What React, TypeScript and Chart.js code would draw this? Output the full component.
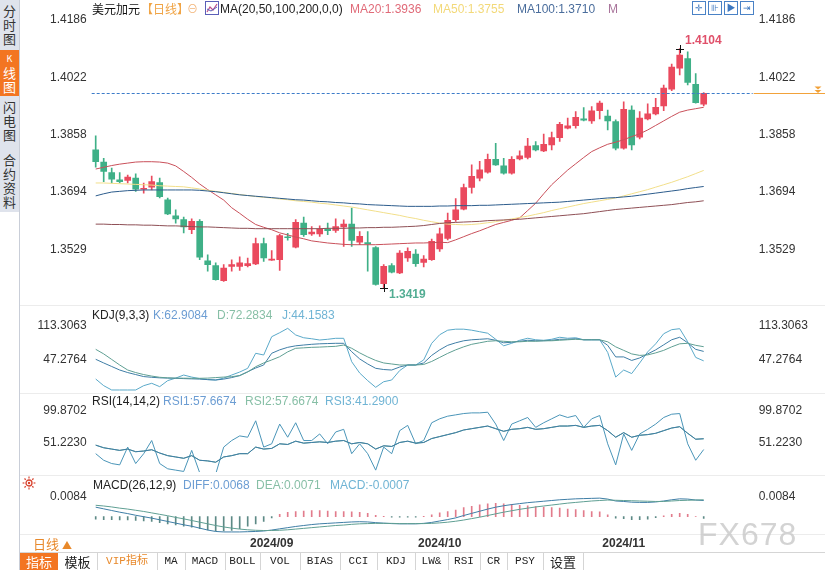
import React, { useEffect, useRef } from "react";
import { Chart, registerables } from "chart.js";
Chart.register(...registerables);

const FONT = "'Liberation Sans', 'Noto Sans CJK SC', sans-serif";
const CJK = "'Noto Sans CJK SC', 'Liberation Sans', sans-serif";
const MONO = "'Liberation Mono', 'Noto Sans CJK SC', monospace";

// ---------- categories ----------
const dates = [
  "2024/08/01","2024/08/02","2024/08/05","2024/08/06","2024/08/07","2024/08/08","2024/08/09",
  "2024/08/12","2024/08/13","2024/08/14","2024/08/15","2024/08/16","2024/08/19","2024/08/20",
  "2024/08/21","2024/08/22","2024/08/23","2024/08/26","2024/08/27","2024/08/28","2024/08/29",
  "2024/08/30","2024/09/02","2024/09/03","2024/09/04","2024/09/05","2024/09/06","2024/09/09",
  "2024/09/10","2024/09/11","2024/09/12","2024/09/13","2024/09/16","2024/09/17","2024/09/18",
  "2024/09/19","2024/09/20","2024/09/23","2024/09/24","2024/09/25","2024/09/26","2024/09/27",
  "2024/09/30","2024/10/01","2024/10/02","2024/10/03","2024/10/04","2024/10/07","2024/10/08",
  "2024/10/09","2024/10/10","2024/10/11","2024/10/14","2024/10/15","2024/10/16","2024/10/17",
  "2024/10/18","2024/10/21","2024/10/22","2024/10/23","2024/10/24","2024/10/25","2024/10/28",
  "2024/10/29","2024/10/30","2024/10/31","2024/11/01","2024/11/04","2024/11/05","2024/11/06",
  "2024/11/07","2024/11/08","2024/11/11","2024/11/12","2024/11/13","2024/11/14","2024/11/15",
];
const emptySlots = ["", "", "", "", "", ""];
const monthTickLabels = ["2024/09", "2024/10", "2024/11"];

// ---------- candles ----------
const opens = [
  1.3814,1.3779,1.3749,1.3728,1.3726,1.3733,1.3701,1.3707,1.3720,1.3671,1.3625,1.3614,1.3585,1.3609,
  1.3496,1.3482,1.3439,1.3480,1.3480,1.3482,1.3487,1.3545,1.3498,1.3499,1.3564,1.3535,1.3604,1.3573,
  1.3573,1.3587,1.3583,1.3593,1.3601,1.3549,1.3548,1.3534,1.3430,1.3482,1.3461,1.3504,1.3515,1.3491,
  1.3499,1.3530,1.3560,1.3614,1.3644,1.3706,1.3733,1.3750,1.3787,1.3768,1.3747,1.3788,1.3792,1.3826,
  1.3811,1.3828,1.3849,1.3876,1.3883,1.3903,1.3897,1.3926,1.3911,1.3895,1.3819,1.3928,1.3850,1.3903,
  1.3917,1.3940,1.3988,1.4048,1.4076,1.4002,1.3945,
];
const highs = [
  1.3854,1.3790,1.3762,1.3749,1.3742,1.3745,1.3719,1.3739,1.3733,1.3676,1.3642,1.3621,1.3616,1.3614,
  1.3513,1.3490,1.3485,1.3499,1.3507,1.3504,1.3561,1.3561,1.3525,1.3572,1.3575,1.3614,1.3621,1.3594,
  1.3596,1.3604,1.3616,1.3613,1.3647,1.3580,1.3580,1.3537,1.3485,1.3488,1.3525,1.3533,1.3528,1.3511,
  1.3558,1.3590,1.3633,1.3674,1.3716,1.3771,1.3781,1.3802,1.3833,1.3790,1.3795,1.3811,1.3847,1.3838,
  1.3859,1.3865,1.3893,1.3905,1.3924,1.3935,1.3938,1.3954,1.3928,1.3900,1.3952,1.3940,1.3924,1.3946,
  1.3962,1.4000,1.4060,1.4104,1.4095,1.4033,1.3978,
];
const lows = [
  1.3764,1.3723,1.3719,1.3719,1.3719,1.3695,1.3690,1.3699,1.3676,1.3628,1.3604,1.3576,1.3574,1.3499,
  1.3466,1.3440,1.3437,1.3466,1.3468,1.3478,1.3485,1.3494,1.3497,1.3468,1.3555,1.3533,1.3566,1.3569,
  1.3566,1.3571,1.3577,1.3537,1.3537,1.3542,1.3466,1.3426,1.3419,1.3461,1.3459,1.3494,1.3480,1.3478,
  1.3497,1.3523,1.3556,1.3609,1.3642,1.3690,1.3725,1.3747,1.3769,1.3744,1.3744,1.3785,1.3788,1.3811,
  1.3809,1.3814,1.3838,1.3874,1.3876,1.3897,1.3890,1.3903,1.3871,1.3814,1.3816,1.3814,1.3845,1.3900,
  1.3914,1.3926,1.3984,1.4029,1.4000,1.3948,1.3940,
];
const closes = [
  1.3780,1.3752,1.3730,1.3723,1.3736,1.3701,1.3704,1.3723,1.3680,1.3630,1.3616,1.3593,1.3609,1.3506,
  1.3485,1.3442,1.3475,1.3485,1.3490,1.3488,1.3545,1.3504,1.3500,1.3568,1.3562,1.3606,1.3571,1.3578,
  1.3587,1.3582,1.3594,1.3601,1.3554,1.3566,1.3544,1.3428,1.3480,1.3463,1.3518,1.3523,1.3488,1.3501,
  1.3552,1.3573,1.3612,1.3642,1.3706,1.3738,1.3757,1.3787,1.3771,1.3747,1.3787,1.3797,1.3825,1.3814,
  1.3830,1.3849,1.3887,1.3883,1.3907,1.3899,1.3926,1.3948,1.3897,1.3819,1.3930,1.3828,1.3905,1.3917,
  1.3936,1.3991,1.4051,1.4086,1.4007,1.3949,1.3976,
];

// ---------- moving averages ----------
const ma20 = [
  1.3759,1.3764,1.3769,1.3773,1.3776,1.3779,1.3780,1.3780,1.3779,1.3776,1.3768,1.3752,1.3735,1.3716,
  1.3700,1.3685,1.3670,1.3648,1.3632,1.3615,1.3600,1.3592,1.3585,1.3576,1.3570,1.3564,1.3559,1.3553,
  1.3550,1.3547,1.3545,1.3543,1.3542,1.3542,1.3542,1.3542,1.3543,1.3544,1.3545,1.3546,1.3547,1.3547,
  1.3548,1.3549,1.3548,1.3556,1.3565,1.3574,1.3582,1.3591,1.3600,1.3606,1.3612,1.3619,1.3640,1.3661,
  1.3688,1.3714,1.3735,1.3756,1.3774,1.3792,1.3809,1.3820,1.3830,1.3836,1.3843,1.3852,1.3860,1.3871,
  1.3884,1.3897,1.3910,1.3922,1.3928,1.3932,1.3936,
];
const ma50 = [
  1.3719,1.3719,1.3718,1.3717,1.3716,1.3715,1.3714,1.3713,1.3711,1.3710,1.3709,1.3708,1.3705,1.3702,
  1.3698,1.3695,1.3692,1.3689,1.3686,1.3683,1.3680,1.3678,1.3676,1.3673,1.3671,1.3668,1.3666,1.3664,
  1.3661,1.3659,1.3656,1.3653,1.3650,1.3646,1.3642,1.3638,1.3634,1.3630,1.3626,1.3621,1.3617,1.3612,
  1.3608,1.3604,1.3601,1.3600,1.3599,1.3600,1.3602,1.3605,1.3608,1.3612,1.3616,1.3620,1.3624,1.3629,
  1.3634,1.3640,1.3645,1.3650,1.3655,1.3660,1.3664,1.3668,1.3672,1.3676,1.3682,1.3688,1.3694,1.3700,
  1.3707,1.3714,1.3721,1.3729,1.3737,1.3746,1.3755,
];
const ma100 = [
  1.3682,1.3688,1.3693,1.3695,1.3697,1.3698,1.3699,1.3699,1.3699,1.3699,1.3699,1.3699,1.3699,1.3698,
  1.3696,1.3694,1.3691,1.3688,1.3685,1.3683,1.3681,1.3679,1.3677,1.3675,1.3673,1.3671,1.3670,1.3668,
  1.3666,1.3665,1.3663,1.3662,1.3660,1.3659,1.3657,1.3656,1.3655,1.3654,1.3653,1.3652,1.3652,1.3652,
  1.3652,1.3653,1.3653,1.3654,1.3654,1.3654,1.3655,1.3655,1.3656,1.3657,1.3658,1.3659,1.3660,1.3661,
  1.3662,1.3663,1.3664,1.3666,1.3668,1.3670,1.3672,1.3674,1.3676,1.3677,1.3679,1.3681,1.3684,1.3687,
  1.3690,1.3693,1.3696,1.3699,1.3703,1.3706,1.3709,
];
const ma200 = [
  1.3601,1.3601,1.3600,1.3600,1.3599,1.3599,1.3598,1.3598,1.3597,1.3596,1.3596,1.3595,1.3594,1.3593,
  1.3593,1.3592,1.3591,1.3590,1.3589,1.3589,1.3588,1.3588,1.3588,1.3588,1.3588,1.3588,1.3588,1.3588,
  1.3588,1.3589,1.3589,1.3589,1.3590,1.3590,1.3591,1.3591,1.3592,1.3592,1.3593,1.3594,1.3595,1.3597,
  1.3600,1.3603,1.3605,1.3606,1.3607,1.3608,1.3609,1.3611,1.3612,1.3613,1.3614,1.3615,1.3617,1.3619,
  1.3621,1.3623,1.3625,1.3627,1.3629,1.3631,1.3634,1.3637,1.3640,1.3643,1.3645,1.3647,1.3649,1.3651,
  1.3653,1.3655,1.3657,1.3660,1.3663,1.3665,1.3668,
];
const priceTicks = [1.4186, 1.4022, 1.3858, 1.3694, 1.3529];

// ---------- KDJ ----------
const kdjK = [
  47.3,40,33,26,21,17,13,11.6,10.5,10,9.6,9,8.5,8,7,6.2,8,11,15,22.7,30,36,59.2,66,71,74,75.6,
  77,78,78.5,79,79,62.3,48,38,29.4,27,26,32,36,36,40,55,66,75,80,84,86,87,88,85,80,81,83,85,
  84,84,85,87,87,88,86,86,86,75,52,52,45,50,58,66,76,86,91,80,67,62.9084,
];
const kdjD = [
  67.1,58,47,36,26,21,17,14,11.6,10.5,10,9.8,9.6,9.6,10,11,12,12.8,15,22,32.6,40,46,52.4,62,69.1,
  70,71,71.5,72.3,73,75.6,69.1,60,52,45,40,38,36,36,36,37,43,51,59,66,72,77,80,83,84,83,82,82,83,
  83,84,84,85,86,87,86,86,86,82,72,65,58,55,56,60,65,72,78,79,75,72.2834,
];
const kdjJ = [
  8.2,-5,-13.6,-13.6,-13.6,-13.6,-5,-0.3,-7,5,10,16.1,12,9,7,6.2,10,16.1,22,29.4,59.2,55.8,92.1,
  100,108.7,95.5,90,88,85.5,87,88.9,88.9,42.5,20,5,-8.3,2.8,6.2,25,36,36,46,79,96,105,107,107,105,
  102,99,87,74,79,85,89,86,85,87,91,89,90,86,86,86,61,12,26,19,40,62,78,98,106,108,82,51,44.1583,
];
const kdjTicks = [113.3063, 47.2764];

// ---------- RSI ----------
const rsi1 = [
  48,44,42,40,42,38,39,41,36,32,30,28,32,25,24,22,30,32,35,35,45,42,43,50,49,54,51,52,53,52,54,55,
  50,52,50,42,47,46,52,54,51,52,58,61,64,67,71,73,75,77,73,69,72,73,75,72,73,75,77,77,78,75,77,78,
  70,60,67,60,63,64,66,70,74,76,66,57,57.6674,
];
const rsi2 = [
  48,44,42,40,42,38,39,41,36,32,30,28,32,25,24,22,30,32,35,35,45,42,43,50,49,54,51,52,53,52,54,55,
  50,52,50,42,47,46,52,54,51,52,58,61,64,67,71,73,75,77,73,69,72,73,75,72,73,75,77,77,78,75,77,78,
  70,60,67,60,63,64,66,70,74,76,66,57,57.6674,
];
const rsi3 = [
  35,25,20,18,45,20,35,55,20,12,10,8,40,6,5,4,45,55,62,60,85,45,50,80,60,82,55,55,65,50,68,72,35,
  50,35,10,45,35,70,78,50,55,82,88,92,94,96,97,97,98,80,55,80,85,90,75,82,88,94,90,93,75,88,93,50,
  18,65,40,65,72,80,90,95,96,50,25,41.29,
];
const rsiTicks = [99.8702, 51.223];

// ---------- MACD ----------
const macdDiff = [
  0.004,0.0033,0.0026,0.0019,0.0013,0.0006,0,-0.0006,-0.0013,-0.002,-0.0027,-0.0034,-0.004,-0.0048,
  -0.0056,-0.0062,-0.0064,-0.0064,-0.0064,-0.0063,-0.0062,-0.006,-0.0056,-0.0051,-0.0046,-0.0041,
  -0.0037,-0.0033,-0.003,-0.0028,-0.0026,-0.0024,-0.0022,-0.0021,-0.0022,-0.0025,-0.0027,-0.0029,
  -0.003,-0.003,-0.003,-0.0028,-0.0024,-0.0018,-0.0012,-0.0005,0.0005,0.0014,0.0023,0.0032,0.004,
  0.0046,0.0051,0.0055,0.0059,0.0062,0.0065,0.0068,0.0071,0.0073,0.0075,0.0076,0.0077,0.0078,0.0074,
  0.0066,0.0064,0.0061,0.006,0.006,0.0062,0.0066,0.0071,0.0075,0.0074,0.007,0.0068,
];
const macdDea = [
  0.0048,0.0045,0.0041,0.0036,0.0032,0.0027,0.0022,0.0016,0.001,0.0004,-0.0003,-0.0009,-0.0016,
  -0.0023,-0.003,-0.0037,-0.0043,-0.0048,-0.0052,-0.0055,-0.0057,-0.0058,-0.0058,-0.0057,-0.0055,
  -0.0052,-0.0049,-0.0046,-0.0043,-0.004,-0.0037,-0.0035,-0.0032,-0.003,-0.0029,-0.0028,-0.0028,
  -0.0028,-0.0029,-0.0029,-0.0029,-0.0029,-0.0028,-0.0026,-0.0023,-0.0019,-0.0014,-0.0008,-0.0002,
  0.0005,0.0012,0.0019,0.0025,0.0031,0.0036,0.0041,0.0045,0.0049,0.0053,0.0057,0.006,0.0063,0.0066,
  0.0068,0.007,0.0069,0.0068,0.0067,0.0066,0.0065,0.0064,0.0064,0.0066,0.0068,0.0069,0.007,0.0071,
];
const macdHist = [
  -0.001,-0.0012,-0.0012,-0.0013,-0.0014,-0.0016,-0.0018,-0.002,-0.0025,-0.003,-0.0034,-0.004,
  -0.0044,-0.005,-0.0056,-0.006,-0.006,-0.0058,-0.005,-0.004,-0.003,-0.002,-0.0005,0.001,0.0018,
  0.0022,0.0024,0.0026,0.0026,0.0024,0.0022,0.0022,0.002,0.0018,0.0014,0.0006,0.0002,-0.0002,
  -0.0002,-0.0002,-0.0002,0.0002,0.0008,0.0016,0.0022,0.0028,0.0038,0.0044,0.005,0.0054,0.0056,
  0.0054,0.0052,0.0048,0.0046,0.0042,0.004,0.0038,0.0036,0.0032,0.003,0.0026,0.0022,0.002,0.0008,
  -0.0006,-0.0008,-0.0012,-0.0012,-0.001,-0.0004,0.0004,0.001,0.0014,0.001,0,-0.0007,
];
const macdTicks = [0.0084];

// ---------- styling ----------
const UP = "#ea4a5e";
const DOWN = "#3fb087";
const allLabels = [...dates, ...emptySlots];
const LEFT_W = 71.7;
const RIGHT_W = 69.3;

function yAxis(position: "left" | "right", min: number, max: number, ticks: number[], dec: number) {
  return {
    position,
    min,
    max,
    afterBuildTicks: (s: any) => {
      s.ticks = ticks.map((v) => ({ value: v }));
    },
    afterFit: (s: any) => {
      s.width = position === "left" ? LEFT_W : RIGHT_W;
      s.paddingTop = 0;
      s.paddingBottom = 0;
    },
    ticks: {
      callback: (v: any) => Number(v).toFixed(dec),
      color: "#333",
      font: { size: 12, family: FONT },
      padding: position === "left" ? 5 : 3,
    },
    grid: { display: false, drawTicks: false },
    border: { display: false },
  };
}

function xAxis(show: boolean) {
  return {
    type: "category",
    offset: true,
    display: show,
    grid: { display: false, drawTicks: false },
    border: { display: false },
    afterFit: (s: any) => {
      if (show) s.height = 19;
      s.paddingLeft = 0;
      s.paddingRight = 0;
    },
    ticks: {
      autoSkip: false,
      maxRotation: 0,
      padding: 3,
      color: "#333",
      font: { size: 12, family: FONT, weight: "bold" },
      callback: (_v: any, i: number) => {
        const d = allLabels[i];
        if (!d) return "";
        const m = d.slice(0, 7);
        if (monthTickLabels.includes(m) && (i === 0 || !allLabels[i - 1].startsWith(m))) return m;
        return "";
      },
    },
  };
}

function baseOptions(min: number, max: number, ticks: number[], dec: number, showX: boolean) {
  return {
    responsive: false,
    maintainAspectRatio: false,
    animation: false,
    events: [],
    layout: { padding: 0 },
    plugins: { legend: { display: false }, tooltip: { enabled: false } },
    scales: {
      x: xAxis(showX),
      y: yAxis("left", min, max, ticks, dec),
      yR: yAxis("right", min, max, ticks, dec),
    },
  };
}

function line(data: number[], color: string, order = 0) {
  return {
    type: "line",
    data,
    borderColor: color,
    backgroundColor: color,
    borderWidth: 1,
    pointRadius: 0,
    tension: 0,
    yAxisID: "y",
    order,
  };
}

const mainMarks = {
  id: "mainMarks",
  afterDatasetsDraw(chart: any) {
    const { ctx, chartArea, scales } = chart;
    const x = scales.x;
    const y = scales.y;
    const last = closes[closes.length - 1];
    const yy = Math.round(y.getPixelForValue(last)) + 0.5;
    ctx.save();
    ctx.lineWidth = 1;
    ctx.strokeStyle = "#3d7cc9";
    ctx.setLineDash([3, 2]);
    ctx.beginPath();
    ctx.moveTo(chartArea.left, yy);
    ctx.lineTo(chartArea.right - 3, yy);
    ctx.stroke();
    ctx.setLineDash([]);
    ctx.strokeStyle = "#f2a23a";
    ctx.beginPath();
    ctx.moveTo(chartArea.right - 2, yy);
    ctx.lineTo(chart.width, yy);
    ctx.stroke();
    ctx.fillStyle = "#f2a23a";
    const ax = chart.width - 7;
    [yy - 7, yy - 3.5].forEach((t) => {
      ctx.beginPath();
      ctx.moveTo(ax - 3.5, t);
      ctx.lineTo(ax + 3.5, t);
      ctx.lineTo(ax, t + 3);
      ctx.closePath();
      ctx.fill();
    });
    // high / low markers
    let hi = 0;
    let lo = 0;
    highs.forEach((h, i) => { if (h > highs[hi]) hi = i; });
    lows.forEach((l, i) => { if (l < lows[lo]) lo = i; });
    const cross = (px: number, py: number) => {
      ctx.strokeStyle = "#111";
      ctx.beginPath();
      ctx.moveTo(px - 4, py + 0.5);
      ctx.lineTo(px + 4, py + 0.5);
      ctx.moveTo(px + 0.5, py - 4);
      ctx.lineTo(px + 0.5, py + 4);
      ctx.stroke();
    };
    const hx = Math.round(x.getPixelForValue(hi));
    const hy = Math.round(y.getPixelForValue(highs[hi]));
    cross(hx, hy);
    ctx.font = `bold 12px ${FONT}`;
    ctx.textBaseline = "middle";
    ctx.textAlign = "left";
    ctx.fillStyle = "#e0506a";
    ctx.fillText(highs[hi].toFixed(4), hx + 5, hy - 8);
    const lx = Math.round(x.getPixelForValue(lo));
    const ly = Math.round(y.getPixelForValue(lows[lo]));
    cross(lx, ly);
    ctx.fillStyle = "#52ad93";
    ctx.fillText(lows[lo].toFixed(4), lx + 5, ly + 7);
    ctx.restore();
  },
};

function mainConfig(): any {
  const colors = closes.map((c, i) => (c >= opens[i] ? UP : DOWN));
  return {
    type: "bar",
    data: {
      labels: allLabels,
      datasets: [
        line(ma200, "#8e4f55", 1),
        line(ma100, "#2c5c8c", 1),
        line(ma50, "#f2df8a", 1),
        line(ma20, "#c9505a", 1),
        {
          type: "bar",
          data: lows.map((l, i) => [l, highs[i]]),
          backgroundColor: colors,
          barThickness: 1,
          grouped: false,
          yAxisID: "y",
          order: 3,
        },
        {
          type: "bar",
          data: opens.map((o, i) => [o, closes[i]]),
          backgroundColor: colors,
          barThickness: 6,
          minBarLength: 1,
          grouped: false,
          yAxisID: "y",
          order: 2,
        },
      ],
    },
    options: baseOptions(1.424363, 1.33835, priceTicks, 4, false),
    plugins: [mainMarks],
  };
}

function kdjConfig(): any {
  return {
    type: "line",
    data: {
      labels: allLabels,
      datasets: [line(kdjD, "#5f9f93"), line(kdjK, "#3f7ea6"), line(kdjJ, "#5aa9c9")],
    },
    options: baseOptions(152.97, -17.57, kdjTicks, 4, false),
  };
}

function rsiConfig(): any {
  return {
    type: "line",
    data: {
      labels: allLabels,
      datasets: [line(rsi1, "#3f7ea6"), line(rsi2, "#5f9f93"), line(rsi3, "#4a95b8")],
    },
    options: baseOptions(128.75, 7.15, rsiTicks, 4, false),
  };
}

function macdConfig(): any {
  return {
    type: "bar",
    data: {
      labels: allLabels,
      datasets: [
        {
          type: "bar",
          data: macdHist,
          backgroundColor: macdHist.map((v) => (v >= 0 ? "#e27c8c" : "#5d8a86")),
          barThickness: 1,
          yAxisID: "y",
          order: 2,
        },
        line(macdDea, "#5f9f93", 1),
        line(macdDiff, "#3f7ea6", 1),
      ],
    },
    options: baseOptions(0.018774, -0.006846, macdTicks, 4, true),
  };
}

const abs = (l: number, t: number, extra: any = {}) => ({ position: "absolute" as const, left: l, top: t, whiteSpace: "nowrap" as const, ...extra });

function Txt({ l, t, c = "#222", s = 12, f = FONT, w = "normal", children }: any) {
  return (
    <div style={abs(l, t, { color: c, fontSize: s, fontFamily: f, fontWeight: w, lineHeight: "14px" })}>{children}</div>
  );
}

function IconBox({ l, children }: any) {
  return (
    <div style={abs(l, 1, { width: 12, height: 12, border: "1px solid #4a82c6", color: "#3d78c0", fontSize: 9, lineHeight: "12px", textAlign: "center", fontFamily: FONT })}>
      {children}
    </div>
  );
}

const toolbarItems = [
  { t: "模板", l: 58, r: 97, c: "#222", cjk: true },
  { t: "VIP指标", l: 97, r: 157, c: "#e8892b", cjk: false },
  { t: "MA", l: 157, r: 185, c: "#222", cjk: false },
  { t: "MACD", l: 185, r: 225, c: "#222", cjk: false },
  { t: "BOLL", l: 225, r: 260, c: "#222", cjk: false },
  { t: "VOL", l: 260, r: 300, c: "#222", cjk: false },
  { t: "BIAS", l: 300, r: 340, c: "#222", cjk: false },
  { t: "CCI", l: 340, r: 377, c: "#222", cjk: false },
  { t: "KDJ", l: 377, r: 415, c: "#222", cjk: false },
  { t: "LW&", l: 415, r: 448, c: "#222", cjk: false },
  { t: "RSI", l: 448, r: 480, c: "#222", cjk: false },
  { t: "CR", l: 480, r: 507, c: "#222", cjk: false },
  { t: "PSY", l: 507, r: 543, c: "#222", cjk: false },
  { t: "设置", l: 543, r: 583, c: "#222", cjk: true },
];

export default function App() {
  const mainRef = useRef<HTMLCanvasElement>(null);
  const kdjRef = useRef<HTMLCanvasElement>(null);
  const rsiRef = useRef<HTMLCanvasElement>(null);
  const macdRef = useRef<HTMLCanvasElement>(null);

  useEffect(() => {
    const charts: Chart[] = [];
    charts.push(new Chart(mainRef.current as HTMLCanvasElement, mainConfig()));
    charts.push(new Chart(kdjRef.current as HTMLCanvasElement, kdjConfig()));
    charts.push(new Chart(rsiRef.current as HTMLCanvasElement, rsiConfig()));
    charts.push(new Chart(macdRef.current as HTMLCanvasElement, macdConfig()));
    return () => charts.forEach((c) => c.destroy());
  }, []);

  const canvasStyle = (top: number, h: number) => ({ position: "absolute" as const, left: 20, top, width: 805, height: h });

  const sideChars = (chars: string[], top: number, color: string) =>
    chars.map((ch, i) => (
      <div key={ch + i} style={abs(0, top + i * 14, { width: 19, textAlign: "center", fontSize: ch === "K" ? 9 : 13, lineHeight: "14px", color, fontFamily: CJK })}>
        {ch}
      </div>
    ));

  return (
    <div style={{ position: "absolute", left: 0, top: 0, width: 825, height: 570, background: "#fff", overflow: "hidden", fontFamily: FONT }}>
      {/* sidebar */}
      <div style={abs(0, 0, { width: 19, height: 212, background: "#dfe3ec" })} />
      <div style={abs(19, 0, { width: 1, height: 570, background: "#c9ced8" })} />
      <div style={abs(0, 50, { width: 19, height: 46, background: "#f37521" })} />
      {sideChars(["分", "时", "图"], 4, "#333")}
      {sideChars(["K", "线", "图"], 52, "#fff")}
      {sideChars(["闪", "电", "图"], 100, "#333")}
      {sideChars(["合", "约", "资", "料"], 153, "#333")}

      {/* panel separators */}
      <div style={abs(20, 305, { width: 805, height: 1, background: "#ececec" })} />
      <div style={abs(20, 393, { width: 805, height: 1, background: "#ececec" })} />
      <div style={abs(20, 475, { width: 805, height: 1, background: "#ececec" })} />
      <div style={abs(20, 534, { width: 805, height: 1, background: "#ececec" })} />

      <canvas ref={mainRef} width={805} height={300} style={canvasStyle(0, 300)} />
      <canvas ref={kdjRef} width={805} height={86} style={canvasStyle(306, 86)} />
      <canvas ref={rsiRef} width={805} height={80} style={canvasStyle(392, 80)} />
      <canvas ref={macdRef} width={805} height={80} style={canvasStyle(472, 80)} />

      {/* main header */}
      <Txt l={92} t={2} f={CJK} c="#111">美元加元</Txt>
      <Txt l={141} t={2} f={CJK} c="#f0a445">【日线】</Txt>
      <Txt l={187} t={2} c="#f2b57a" s={11}>⊖</Txt>
      <svg style={abs(205, 1)} width={14} height={14} viewBox="0 0 14 14">
        <rect x={0.5} y={0.5} width={13} height={13} fill="#fff" stroke="#5b5fb8" />
        <polyline points="2,11 5,6 8,9 12,3" fill="none" stroke="#c0508a" strokeWidth={1.2} />
        <polyline points="2,8 6,10 12,6" fill="none" stroke="#5b5fb8" strokeWidth={1} />
      </svg>
      <Txt l={220} t={2} c="#222">MA(20,50,100,200,0,0)</Txt>
      <Txt l={350} t={2} c="#e06a78">MA20:1.3936</Txt>
      <Txt l={433} t={2} c="#f3d979">MA50:1.3755</Txt>
      <Txt l={517} t={2} c="#4a6d9c">MA100:1.3710</Txt>
      <Txt l={608} t={2} c="#a8739a">M</Txt>
      <IconBox l={692}>✛</IconBox>
      <IconBox l={708}>⊪</IconBox>
      <IconBox l={724}>▶</IconBox>
      <IconBox l={740}>⇥</IconBox>

      {/* KDJ header */}
      <Txt l={92} t={308} c="#222">KDJ(9,3,3)</Txt>
      <Txt l={153} t={308} c="#6c9dd3">K:62.9084</Txt>
      <Txt l={217} t={308} c="#87bfa6">D:72.2834</Txt>
      <Txt l={282} t={308} c="#70b4d4">J:44.1583</Txt>

      {/* RSI header */}
      <Txt l={92} t={394} c="#222">RSI(14,14,2)</Txt>
      <Txt l={163} t={394} c="#6c9dd3">RSI1:57.6674</Txt>
      <Txt l={245} t={394} c="#87bfa6">RSI2:57.6674</Txt>
      <Txt l={325} t={394} c="#70b4d4">RSI3:41.2900</Txt>

      {/* MACD header */}
      <svg style={abs(22, 476)} width={14} height={14} viewBox="0 0 14 14">
        <circle cx={7} cy={7} r={3} fill="none" stroke="#d8432f" strokeWidth={1.3} />
        <circle cx={7} cy={7} r={1.2} fill="#d8432f" />
        {[0, 45, 90, 135, 180, 225, 270, 315].map((a) => (
          <line key={a} x1={7 + 4.6 * Math.cos((a * Math.PI) / 180)} y1={7 + 4.6 * Math.sin((a * Math.PI) / 180)} x2={7 + 6.4 * Math.cos((a * Math.PI) / 180)} y2={7 + 6.4 * Math.sin((a * Math.PI) / 180)} stroke="#d8432f" strokeWidth={1.2} />
        ))}
      </svg>
      <Txt l={93} t={478} c="#222">MACD(26,12,9)</Txt>
      <Txt l={183} t={478} c="#6c9dd3">DIFF:0.0068</Txt>
      <Txt l={256} t={478} c="#87bfa6">DEA:0.0071</Txt>
      <Txt l={330} t={478} c="#70b4d4">MACD:-0.0007</Txt>

      {/* watermark */}
      <div style={abs(698, 518, { fontSize: 32, fontFamily: FONT, color: "rgba(200,200,200,0.8)", letterSpacing: 1, lineHeight: "32px", pointerEvents: "none" })}>
        FX678
      </div>

      {/* day-line selector */}
      <Txt l={33} t={537} f={CJK} c="#e8892b" s={13}>日线 <span style={{ fontSize: 10 }}>▲</span></Txt>

      {/* toolbar */}
      <div style={abs(20, 552, { width: 805, height: 1, background: "#d5d5d5" })} />
      <div style={abs(20, 553, { width: 38, height: 17, background: "#f37521", color: "#fff", fontSize: 13, fontFamily: CJK, lineHeight: "17px", textAlign: "center" })}>指标</div>
      {toolbarItems.map((it) => (
        <React.Fragment key={it.t}>
          <div style={abs(it.l, 553, { width: it.r - it.l, height: 17, textAlign: "center", color: it.c, fontSize: it.cjk ? 13 : 11, fontFamily: it.cjk ? CJK : MONO, lineHeight: "17px" })}>
            {it.t}
          </div>
          <div style={abs(it.r, 553, { width: 1, height: 17, background: "#d5d5d5" })} />
        </React.Fragment>
      ))}
    </div>
  );
}
